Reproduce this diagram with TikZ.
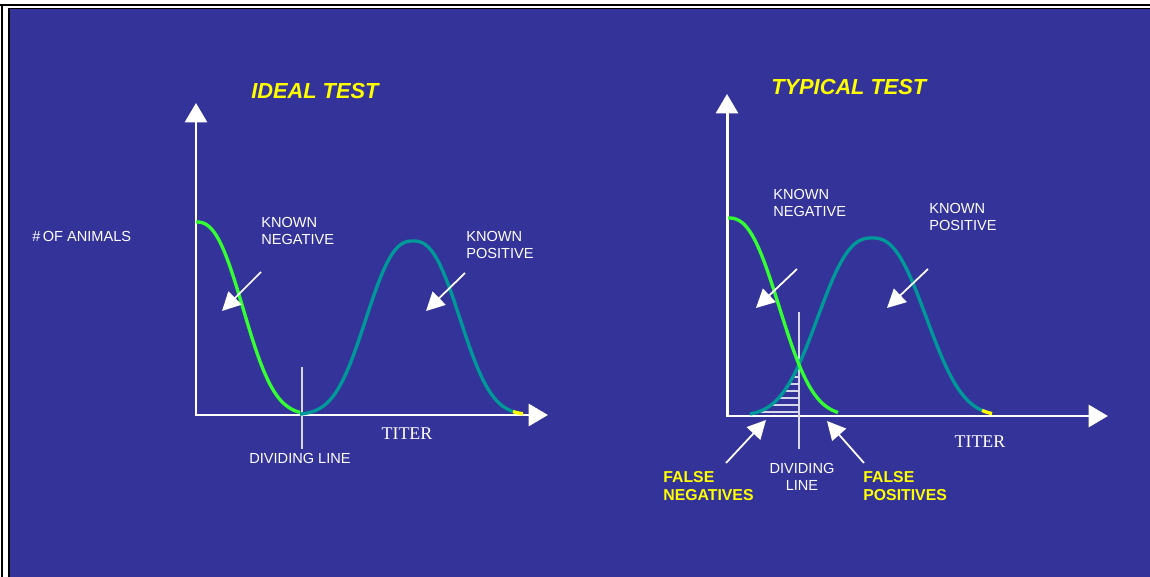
\documentclass[tikz,border=0pt]{standalone}
\usepackage{fontspec}
\setmainfont{Liberation Sans}
\newfontfamily\titerfont{Liberation Serif}
\usetikzlibrary{arrows.meta}
\definecolor{slide}{RGB}{51,51,153}
\definecolor{negcurve}{RGB}{51,255,51}
\definecolor{poscurve}{RGB}{0,153,153}
\definecolor{tailend}{RGB}{255,255,0}
\definecolor{divline}{RGB}{215,215,235}

\begin{document}
\begin{tikzpicture}[x=0.02cm, y=-0.02cm,
    axisline/.style={white, line width=1.7pt, line cap=rect, -{Triangle[length=11pt,width=12.5pt]}},
    pointer/.style={white, line width=1pt, -{Triangle[length=10.5pt,width=10.5pt]}},
    negline/.style={negcurve, line width=1.9pt},
    posline/.style={poscurve, line width=1.9pt},
    tailseg/.style={tailend, line width=1.9pt},
    divider/.style={divline, line width=0.8pt},
    hatch/.style={divline, line width=0.6pt},
    whitetext/.style={white, inner sep=0pt, align=left, font=\fontsize{8.3}{9.8}\selectfont},
    falsetext/.style={tailend, inner sep=0pt, align=left, font=\fontsize{9}{10.2}\selectfont\bfseries},
    testtitle/.style={tailend, inner sep=0pt, font=\fontsize{12.4}{14}\selectfont\bfseries\itshape},
    titertext/.style={white, inner sep=0pt, font=\titerfont\fontsize{10.2}{12}\selectfont},
]

    %frame
    \useasboundingbox (0,0) rectangle (1150,577);
    \fill [white] (0,0) rectangle (1150,577);
    \fill [black] (0,4) rectangle (1150,6.5);
    \fill [black] (1,4) rectangle (3.5,577);
    \fill [black] (8,8) rectangle (1150,577);
    \fill [slide] (9.5,9.3) rectangle (1150,577);

    %axes
    \coordinate (o1) at (196,415);
    \coordinate (ytop1) at (196,103);
    \coordinate (xend1) at (548,415);
    \coordinate (o2) at (727,416);
    \coordinate (ytop2) at (727,94);
    \coordinate (xend2) at (1108,416);
    \draw [axisline] (o1) -- (ytop1);
    \draw [axisline] (o1) -- (xend1);
    \draw [axisline] (o2) -- (ytop2);
    \draw [axisline] (o2) -- (xend2);

    %hatching (false negatives)
    \begin{scope}
        \clip plot[domain=750:799, samples=30] (\x, {416-178*exp(-pow(abs(\x-872)/67+0.0001,2.5))}) -- (799,416) -- cycle;
        \foreach \y in {377,384,391,398,405,412}
            \draw [hatch] (740,\y) -- (799,\y);
    \end{scope}

    %dividing lines
    \coordinate (divtop1) at (302,367);
    \coordinate (divbot1) at (302,449);
    \coordinate (divtop2) at (799,312);
    \coordinate (divbot2) at (799,449);
    \draw [divider] (divtop1) -- (divbot1);
    \draw [divider] (divtop2) -- (divbot2);

    %curves, ideal test
    \draw [posline] plot[domain=300:513, samples=80] (\x, {415-174*exp(-pow(abs(\x-413)/58+0.0001,2.5))});
    \draw [tailseg] plot[domain=513:523, samples=5] (\x, {415-174*exp(-pow(abs(\x-413)/58+0.0001,2.5))});
    \draw [negline] plot[domain=196:300, samples=60] (\x, {415-193*exp(-pow(abs(\x-196)/58+0.0001,2.5))});

    %curves, typical test
    \draw [posline] plot[domain=750:982, samples=90] (\x, {416-178*exp(-pow(abs(\x-872)/67+0.0001,2.5))});
    \draw [tailseg] plot[domain=982:992, samples=5] (\x, {416-178*exp(-pow(abs(\x-872)/67+0.0001,2.5))});
    \draw [negline] plot[domain=728:838, samples=60] (\x, {416-198*exp(-pow(abs(\x-728)/63+0.0001,2.5))});

    %pointers
    \coordinate (negtail1) at (261,272);
    \coordinate (neghead1) at (222,311);
    \coordinate (postail1) at (465,273);
    \coordinate (poshead1) at (426,311);
    \coordinate (negtail2) at (797,269);
    \coordinate (neghead2) at (756,308);
    \coordinate (postail2) at (928,269);
    \coordinate (poshead2) at (887,308);
    \coordinate (fntail) at (726,463);
    \coordinate (fnhead) at (766,420);
    \coordinate (fptail) at (864,463);
    \coordinate (fphead) at (827,421);
    \draw [pointer] (negtail1) -- (neghead1);
    \draw [pointer] (postail1) -- (poshead1);
    \draw [pointer] (negtail2) -- (neghead2);
    \draw [pointer] (postail2) -- (poshead2);
    \draw [pointer] (fntail) -- (fnhead);
    \draw [pointer] (fptail) -- (fphead);

    %nodes
    \node [testtitle, anchor=north west] (ideal) at (251,83) {IDEAL TEST};
    \node [testtitle, anchor=north west] (typical) at (771,79) {TYPICAL TEST};
    \node [whitetext, anchor=north west] (animals) at (32,231) {\#\,OF ANIMALS};
    \node [whitetext, anchor=north west] (knownneg1) at (261,217) {KNOWN\\NEGATIVE};
    \node [whitetext, anchor=north west] (knownpos1) at (466,231) {KNOWN\\POSITIVE};
    \node [whitetext, anchor=north west] (knownneg2) at (773,189) {KNOWN\\NEGATIVE};
    \node [whitetext, anchor=north west] (knownpos2) at (929,203) {KNOWN\\POSITIVE};
    \node [whitetext, anchor=north] (dividing1) at (300,453) {DIVIDING LINE};
    \node [whitetext, anchor=north, align=center] (dividing2) at (802,463) {DIVIDING\\LINE};
    \node [titertext, anchor=north] (titer1) at (407,427) {TITER};
    \node [titertext, anchor=north] (titer2) at (980,435) {TITER};
    \node [falsetext, anchor=north west] (falseneg) at (663,471) {FALSE\\NEGATIVES};
    \node [falsetext, anchor=north west] (falsepos) at (863,471) {FALSE\\POSITIVES};

\end{tikzpicture}
\end{document}
